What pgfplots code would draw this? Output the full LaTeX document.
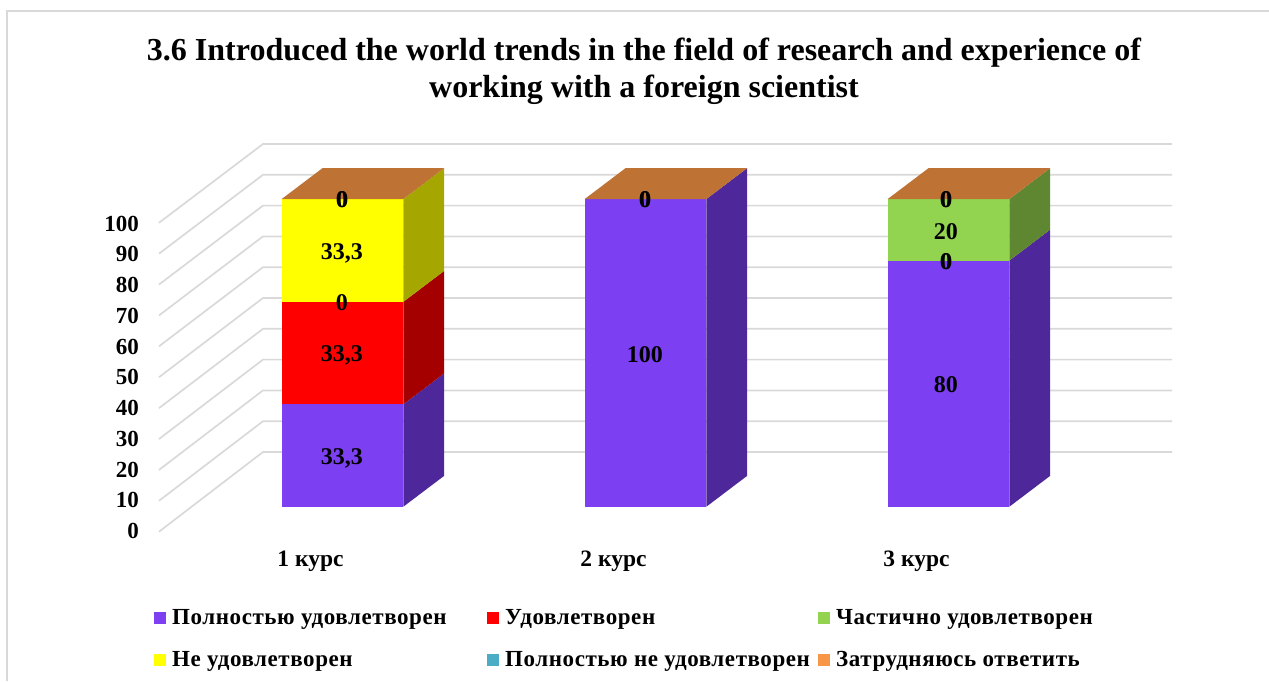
\documentclass[border=0pt]{standalone}
\usepackage{fontspec}
\setmainfont{Liberation Serif}
\usepackage{pgfplots}
\pgfplotsset{compat=1.18}

\definecolor{cA}{HTML}{7C3FF2}
\definecolor{cAd}{HTML}{4E289A}
\definecolor{cB}{HTML}{FF0000}
\definecolor{cBd}{HTML}{A50000}
\definecolor{cC}{HTML}{92D350}
\definecolor{cCd}{HTML}{5F8631}
\definecolor{cD}{HTML}{FFFF00}
\definecolor{cDd}{HTML}{A6A600}
\definecolor{cE}{HTML}{4BACC6}
\definecolor{cF}{HTML}{F79646}
\definecolor{cFt}{HTML}{BE7335}
\definecolor{gridc}{HTML}{D9D9D9}

\begin{document}
\begin{tikzpicture}[x=1pt,y=1pt]
% page: 1269x681, axis box lower left sits at pixel (159,531.7)
\useasboundingbox (-159,-149.3) rectangle (1110,531.7);
\draw[gridc,line width=2pt] (-151.5,-149.3) -- (-151.5,520.7);
\draw[gridc,line width=1.3pt] (-152.5,520.7) -- (1110,520.7);
\begin{axis}[
    scale only axis,
    width=1013pt, height=387.7pt,
    xmin=0.3944, xmax=3.7376,
    ymin=-8.12, ymax=117.88,
    clip=false,
    axis line style={draw=none},
    tick style={draw=none},
    major tick length=0pt,
    font=\bfseries,
    xtick={1,2,3},
    xticklabels={1 курс,2 курс,3 курс},
    xticklabel style={font=\fontsize{23.5}{23.5}\selectfont\bfseries, xshift=-32pt, yshift=-16pt},
    ytick={0,10,...,100},
    yticklabel style={font=\fontsize{23}{23}\selectfont\bfseries, inner sep=0pt, xshift=-20pt, yshift=-24.5pt},
    /pgf/number format/assume math mode=true,
    legend image code/.code={\fill[draw=none,#1] (0pt,-6pt) rectangle (12pt,6pt);},
    legend cell align=left,
    legend style={
        at={(axis cs:0.3944,-8.12)}, anchor=north west,
        xshift=-5pt, yshift=-78pt,
        draw=none, fill=none, inner sep=0pt,
        font=\fontsize{23}{23}\selectfont\bfseries\addfontfeature{LetterSpace=2.5},
        row sep=25pt,
        nodes={inner sep=0pt},
        /tikz/every odd column/.append style={column sep=6pt},
        /tikz/every even column/.append style={column sep=0pt},
    },
    legend columns=3,
]
% wall and floor gridlines: front left, back left, back right
\pgfplotsset{every axis plot/.append style={forget plot}}
\addplot[gridc,line width=1.7pt] coordinates {(0.3944,-8.12)(0.7376,17.78)(3.7376,17.78)};
\addplot[gridc,line width=1.7pt] coordinates {(0.3944,1.92)(0.7376,27.79)(3.7376,27.79)};
\addplot[gridc,line width=1.7pt] coordinates {(0.3944,11.96)(0.7376,37.80)(3.7376,37.80)};
\addplot[gridc,line width=1.7pt] coordinates {(0.3944,22.00)(0.7376,47.81)(3.7376,47.81)};
\addplot[gridc,line width=1.7pt] coordinates {(0.3944,32.04)(0.7376,57.82)(3.7376,57.82)};
\addplot[gridc,line width=1.7pt] coordinates {(0.3944,42.08)(0.7376,67.83)(3.7376,67.83)};
\addplot[gridc,line width=1.7pt] coordinates {(0.3944,52.12)(0.7376,77.84)(3.7376,77.84)};
\addplot[gridc,line width=1.7pt] coordinates {(0.3944,62.16)(0.7376,87.85)(3.7376,87.85)};
\addplot[gridc,line width=1.7pt] coordinates {(0.3944,72.20)(0.7376,97.86)(3.7376,97.86)};
\addplot[gridc,line width=1.7pt] coordinates {(0.3944,82.24)(0.7376,107.87)(3.7376,107.87)};
\addplot[gridc,line width=1.7pt] coordinates {(0.3944,92.28)(0.7376,117.88)(3.7376,117.88)};

% 1 курс: 33,3 / 33,3 / 0 / 33,3 / 0 / 0
\addplot[fill=cA,draw=none] coordinates {(0.7993,0)(1.2007,0)(1.2007,33.3)(0.7993,33.3)} --cycle;
\addplot[fill=cAd,draw=none] coordinates {(1.2007,0)(1.335,10)(1.335,43.3)(1.2007,33.3)} --cycle;
\addplot[fill=cB,draw=none] coordinates {(0.7993,33.3)(1.2007,33.3)(1.2007,66.6)(0.7993,66.6)} --cycle;
\addplot[fill=cBd,draw=none] coordinates {(1.2007,33.3)(1.335,43.3)(1.335,76.6)(1.2007,66.6)} --cycle;
\addplot[fill=cD,draw=none] coordinates {(0.7993,66.6)(1.2007,66.6)(1.2007,100)(0.7993,100)} --cycle;
\addplot[fill=cDd,draw=none] coordinates {(1.2007,66.6)(1.335,76.6)(1.335,110)(1.2007,100)} --cycle;
\addplot[fill=cFt,draw=none] coordinates {(0.7993,100)(1.2007,100)(1.335,110)(0.9336,110)} --cycle;

% 2 курс: 100 / 0 / 0 / 0 / 0 / 0
\addplot[fill=cA,draw=none] coordinates {(1.7993,0)(2.2007,0)(2.2007,100)(1.7993,100)} --cycle;
\addplot[fill=cAd,draw=none] coordinates {(2.2007,0)(2.335,10)(2.335,110)(2.2007,100)} --cycle;
\addplot[fill=cFt,draw=none] coordinates {(1.7993,100)(2.2007,100)(2.335,110)(1.9336,110)} --cycle;

% 3 курс: 80 / 0 / 20 / 0 / 0 / 0
\addplot[fill=cA,draw=none] coordinates {(2.7993,0)(3.2007,0)(3.2007,80)(2.7993,80)} --cycle;
\addplot[fill=cAd,draw=none] coordinates {(3.2007,0)(3.335,10)(3.335,90)(3.2007,80)} --cycle;
\addplot[fill=cC,draw=none] coordinates {(2.7993,80)(3.2007,80)(3.2007,100)(2.7993,100)} --cycle;
\addplot[fill=cCd,draw=none] coordinates {(3.2007,80)(3.335,90)(3.335,110)(3.2007,100)} --cycle;
\addplot[fill=cFt,draw=none] coordinates {(2.7993,100)(3.2007,100)(3.335,110)(2.9336,110)} --cycle;

% value labels, the zeros overprinted as in the original
\begin{scope}[every node/.style={font=\fontsize{24}{24}\selectfont\bfseries, inner sep=0pt, xshift=-0.7pt, yshift=-1pt}]
\node[yshift=-1.5pt] at (axis cs:1,16.65) {33,3};
\node[yshift=-1.5pt] at (axis cs:1,49.95) {33,3};
\node at (axis cs:1,66.6) {0};
\node[yshift=-1.5pt] at (axis cs:1,83.25) {33,3};
\node at (axis cs:1,100) {0};
\node[xshift=0.6pt] at (axis cs:1,100) {0};
\node[yshift=-1pt] at (axis cs:2,50) {100};
\node at (axis cs:2,100) {0};
\node[xshift=0.6pt] at (axis cs:2,100) {0};
\node[xshift=-2pt] at (axis cs:3,40) {80};
\node[xshift=-2pt] at (axis cs:3,80) {0};
\node[xshift=-1.4pt] at (axis cs:3,80) {0};
\node[xshift=-2pt,yshift=-1pt] at (axis cs:3,90) {20};
\node[xshift=-2pt] at (axis cs:3,100) {0};
\node[xshift=-1.4pt] at (axis cs:3,100) {0};
\end{scope}

\addlegendimage{fill=cA}
\addlegendentry{\makebox[315pt][l]{Полностью удовлетворен}}
\addlegendimage{fill=cB}
\addlegendentry{\makebox[313pt][l]{Удовлетворен}}
\addlegendimage{fill=cC}
\addlegendentry{Частично удовлетворен}
\addlegendimage{fill=cD}
\addlegendentry{Не удовлетворен}
\addlegendimage{fill=cE}
\addlegendentry{Полностью не удовлетворен}
\addlegendimage{fill=cF}
\addlegendentry{Затрудняюсь ответить}
\end{axis}
\node[font=\fontsize{32}{37}\selectfont\bfseries, align=center, inner sep=0pt] at (485,460)
  {3.6 Introduced the world trends in the field of research and experience of\\working with a foreign scientist};
\end{tikzpicture}
\end{document}
